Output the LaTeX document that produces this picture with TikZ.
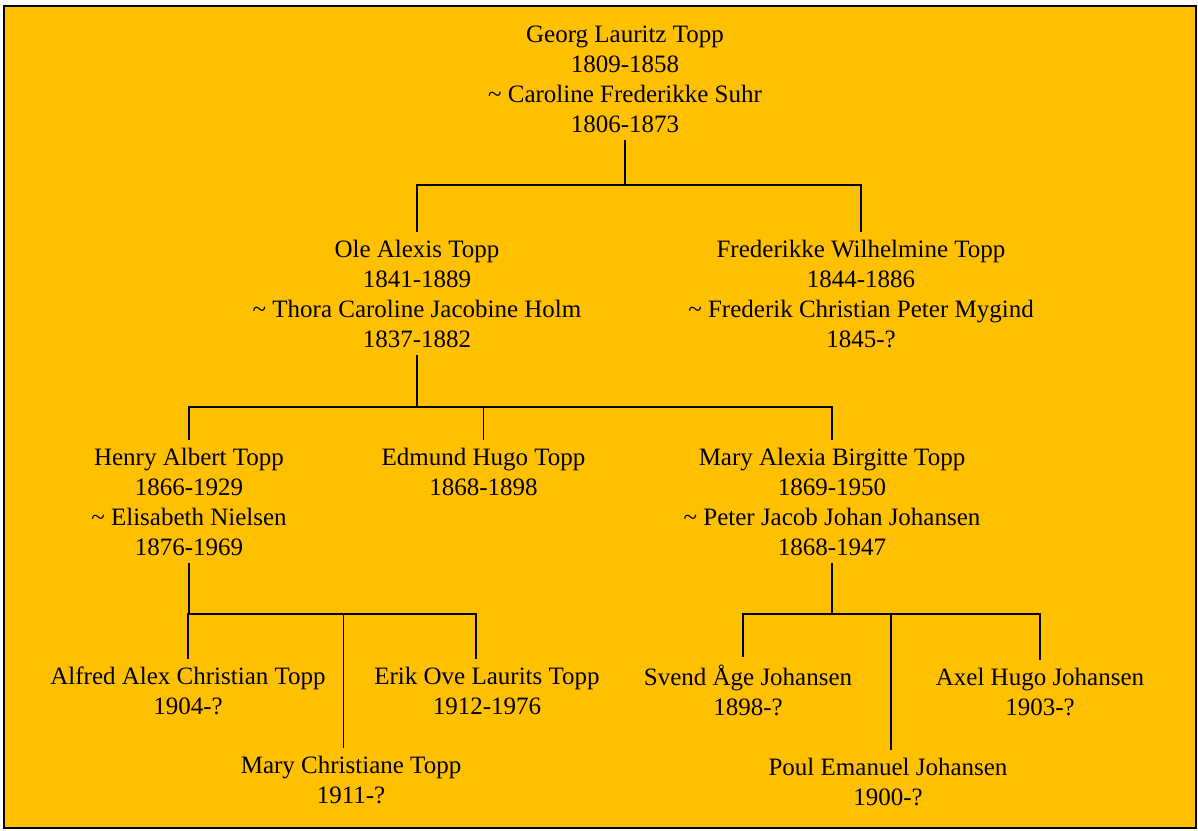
\documentclass[tikz,border=0pt]{standalone}
\usepackage{fontspec}
\setmainfont{Liberation Serif}
\definecolor{fondo}{HTML}{FFC000}
\tikzset{
	persona/.style={align=center, anchor=base, inner xsep=0pt, inner ysep=3.5pt, font=\fontsize{12.5}{15}\selectfont},
	rama/.style={line width=0.7pt}
}
\begin{document}
\begin{tikzpicture}[x=0.5pt, y=-0.5pt]
	\useasboundingbox (0,0) rectangle (1198,830);
	% Fondo y marco
		\fill[white] (0,0) rectangle (1198,830);
		\draw[line width=1pt, fill=fondo] (3.8,6) rectangle (1195.8,827.8);

	% Primera generación
		\node[persona] (georg) at (625,132) {Georg Lauritz Topp\\1809-1858\\\textasciitilde{} Caroline Frederikke Suhr\\1806-1873};

	% Segunda generación
		\node[persona] (ole) at (417,347) {Ole Alexis Topp\\1841-1889\\\textasciitilde{} Thora Caroline Jacobine Holm\\1837-1882};
		\node[persona] (fred) at (861,347) {Frederikke Wilhelmine Topp\\1844-1886\\\textasciitilde{} Frederik Christian Peter Mygind\\1845-?};

	% Tercera generación
		\node[persona] (henry) at (189,555) {Henry Albert Topp\\1866-1929\\\textasciitilde{} Elisabeth Nielsen\\1876-1969};
		\node[persona] (edmund) at (483.5,495) {Edmund Hugo Topp\\1868-1898};
		\node[persona] (mary) at (832,555) {Mary Alexia Birgitte Topp\\1869-1950\\\textasciitilde{} Peter Jacob Johan Johansen\\1868-1947};

	% Cuarta generación
		% Hijos de Henry
			\node[persona] (alfred) at (188,714) {Alfred Alex Christian Topp\\1904-?};
			\node[persona] (mchr) at (351,803) {Mary Christiane Topp\\1911-?};
			\node[persona] (erik) at (487,714) {Erik Ove Laurits Topp\\1912-1976};
		% Hijos de Mary
			\node[persona] (svend) at (748,715) {Svend Åge Johansen\\1898-?};
			\node[persona] (poul) at (888,805) {Poul Emanuel Johansen\\1900-?};
			\node[persona] (axel) at (1040,715) {Axel Hugo Johansen\\1903-?};

	% Ramas
		\coordinate (j0) at (625,185);
		\coordinate (j1) at (417,407);
		\coordinate (j2) at (189,614);
		\coordinate (j3) at (832,614);
		\draw[rama] (georg.south) -- (j0) -| (ole.north);
		\draw[rama] (j0) -| (fred.north);
		\draw[rama] (ole.south) -- (j1) -| (henry.north);
		\draw[rama] (j1) -| (edmund.north);
		\draw[rama] (j1) -| (mary.north);
		\draw[rama] (henry.south) -- (j2) -| (alfred.north);
		\draw[rama] (j2) -| ([xshift=-3.75pt]mchr.north);
		\draw[rama] (j2) -| ([xshift=-5.5pt]erik.north);
		\draw[rama] (mary.south) -- (j3) -| ([xshift=-2.5pt]svend.north);
		\draw[rama] (j3) -| ([xshift=1.5pt]poul.north);
		\draw[rama] (j3) -| (axel.north);
\end{tikzpicture}
\end{document}
